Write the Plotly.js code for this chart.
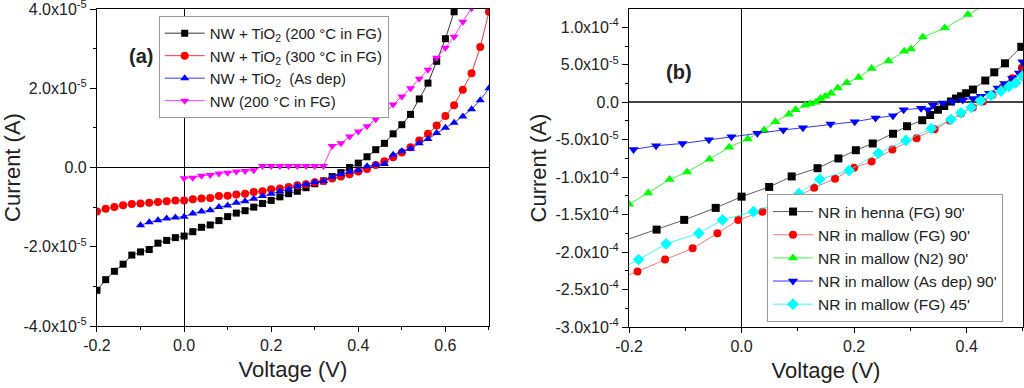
<!DOCTYPE html>
<html>
<head>
<meta charset="utf-8">
<script src="https://cdn.plot.ly/plotly-3.0.1.min.js"></script>
<style>html,body{margin:0;padding:0;background:#fff;}#chart{width:1024px;height:388px;}</style>
</head>
<body>
<div id="chart"></div>
<script>
// ---------- Panel (a) data (current in units of 1e-5 A) ----------
const aBlackV = [-0.2,-0.18,-0.16,-0.14,-0.12,-0.10,-0.08,-0.06,-0.04,-0.02,0.00,0.02,0.04,0.06,0.08,0.10,0.12,0.14,0.16,0.18,0.20,0.22,0.24,0.26,0.28,0.30,0.32,0.34,0.36,0.38,0.40,0.42,0.44,0.46,0.48,0.50,0.52,0.54,0.56,0.58,0.60,0.62];
const aBlackI = [-3.10,-2.83,-2.62,-2.44,-2.21,-2.13,-2.07,-1.91,-1.84,-1.77,-1.73,-1.62,-1.51,-1.45,-1.34,-1.24,-1.15,-1.09,-1.00,-0.91,-0.83,-0.74,-0.66,-0.60,-0.51,-0.41,-0.34,-0.23,-0.13,0.00,0.11,0.27,0.45,0.61,0.85,1.08,1.34,1.73,2.13,2.68,3.25,3.93];
const aRedV = [-0.2,-0.18,-0.16,-0.14,-0.12,-0.10,-0.08,-0.06,-0.04,-0.02,0.00,0.02,0.04,0.06,0.08,0.10,0.12,0.14,0.16,0.18,0.20,0.22,0.24,0.26,0.28,0.30,0.32,0.34,0.36,0.38,0.40,0.42,0.44,0.46,0.48,0.50,0.52,0.54,0.56,0.58,0.60,0.62,0.64,0.66,0.68,0.70];
const aRedI = [-1.11,-1.04,-1.00,-0.95,-0.92,-0.91,-0.89,-0.87,-0.85,-0.83,-0.83,-0.80,-0.78,-0.77,-0.72,-0.71,-0.68,-0.66,-0.62,-0.60,-0.55,-0.53,-0.49,-0.45,-0.42,-0.37,-0.34,-0.28,-0.23,-0.17,-0.10,-0.04,0.06,0.16,0.26,0.38,0.51,0.68,0.85,1.06,1.30,1.57,1.96,2.38,3.04,3.93];
const aBlueV = [-0.10,-0.08,-0.06,-0.04,-0.02,0.00,0.02,0.04,0.06,0.08,0.10,0.12,0.14,0.16,0.18,0.20,0.22,0.24,0.26,0.28,0.30,0.32,0.34,0.36,0.38,0.40,0.42,0.44,0.46,0.48,0.50,0.52,0.54,0.56,0.58,0.60,0.62,0.64,0.66,0.68,0.70];
const aBlueI = [-1.46,-1.38,-1.33,-1.29,-1.26,-1.24,-1.16,-1.11,-1.08,-1.00,-0.96,-0.89,-0.85,-0.79,-0.72,-0.66,-0.60,-0.55,-0.47,-0.42,-0.37,-0.34,-0.24,-0.17,-0.11,-0.07,0.03,0.07,0.09,0.32,0.41,0.47,0.61,0.72,0.87,1.00,1.13,1.29,1.47,1.70,2.00];
const aMagV = [0.00,0.02,0.04,0.06,0.08,0.10,0.12,0.14,0.16,0.18,0.20,0.22,0.24,0.26,0.28,0.30,0.32,0.34,0.36,0.38,0.40,0.42,0.44,0.46,0.48,0.50,0.52,0.54,0.56,0.58,0.60,0.62,0.64,0.66];
const aMagI = [-0.27,-0.26,-0.21,-0.19,-0.15,-0.13,-0.10,-0.09,-0.07,0.04,0.04,0.04,0.04,0.04,0.04,0.04,0.04,0.54,0.61,0.78,0.91,1.04,1.22,1.36,1.59,1.79,2.00,2.24,2.47,2.77,3.02,3.30,3.68,4.02];
const aNames = ["NW + TiO<sub>2</sub> (200 °C in FG)","NW + TiO<sub>2</sub> (300 °C in FG)","NW + TiO<sub>2</sub>  (As dep)","NW (200 °C in FG)"];
const aYTicks = [-4e-5,-2e-5,0,2e-5,4e-5];
const aYLabels = ["-4.0x10<sup>-5</sup>","-2.0x10<sup>-5</sup>","0.0","2.0x10<sup>-5</sup>","4.0x10<sup>-5</sup>"];
const aXTicks = [-0.2,0.0,0.2,0.4,0.6];
const aXLabels = ["-0.2","0.0","0.2","0.4","0.6"];

// ---------- Panel (b) data (current in units of 1e-4 A) ----------
const bBlackV = [-0.21,-0.151,-0.102,-0.046,0.0,0.049,0.089,0.135,0.172,0.203,0.233,0.269,0.294,0.321,0.335,0.349,0.360,0.372,0.381,0.390,0.399,0.411,0.433,0.449,0.468,0.497];
const bBlackI = [-1.85,-1.70,-1.57,-1.41,-1.26,-1.13,-0.99,-0.88,-0.75,-0.64,-0.55,-0.42,-0.32,-0.24,-0.17,-0.10,-0.05,0.01,0.05,0.08,0.12,0.17,0.29,0.40,0.52,0.74];
const bRedV = [-0.21,-0.185,-0.136,-0.087,-0.043,-0.006,0.037,0.086,0.129,0.166,0.200,0.231,0.268,0.311,0.343,0.370,0.390,0.411,0.429,0.446,0.464,0.481,0.498];
const bRedI = [-2.33,-2.26,-2.10,-1.95,-1.75,-1.57,-1.46,-1.31,-1.14,-1.02,-0.875,-0.79,-0.63,-0.48,-0.36,-0.245,-0.15,-0.07,0.01,0.10,0.20,0.32,0.46];
const bGreenV = [-0.2,-0.166,-0.128,-0.097,-0.057,-0.022,0.011,0.040,0.060,0.084,0.096,0.113,0.122,0.132,0.140,0.149,0.159,0.171,0.187,0.208,0.231,0.261,0.289,0.301,0.322,0.361,0.402,0.44];
const bGreenI = [-1.36,-1.21,-1.03,-0.93,-0.76,-0.60,-0.49,-0.37,-0.26,-0.16,-0.10,-0.04,-0.02,0.00,0.05,0.08,0.12,0.19,0.26,0.33,0.45,0.55,0.68,0.71,0.87,0.99,1.17,1.33];
const bBlueV = [-0.192,-0.152,-0.105,-0.058,-0.018,0.028,0.074,0.109,0.158,0.201,0.238,0.269,0.288,0.319,0.331,0.340,0.358,0.375,0.393,0.411,0.425,0.440,0.455,0.467,0.481,0.493,0.499];
const bBlueI = [-0.63,-0.58,-0.55,-0.50,-0.46,-0.415,-0.37,-0.34,-0.29,-0.26,-0.21,-0.18,-0.10,-0.08,-0.10,-0.04,-0.01,0.01,0.03,0.05,0.08,0.12,0.19,0.25,0.32,0.39,0.54];
const bCyanV = [-0.21,-0.183,-0.134,-0.076,-0.034,0.021,0.064,0.102,0.139,0.191,0.243,0.292,0.337,0.372,0.390,0.408,0.425,0.443,0.461,0.475,0.487,0.499];
const bCyanI = [-2.20,-2.10,-1.89,-1.75,-1.57,-1.46,-1.35,-1.22,-1.03,-0.91,-0.68,-0.51,-0.35,-0.23,-0.14,-0.07,0.02,0.09,0.15,0.21,0.26,0.35];
const bNames = ["NR in henna (FG) 90'","NR in mallow (FG) 90'","NR in mallow (N2) 90'","NR in mallow (As dep) 90'","NR in mallow (FG) 45'"];
const bYTicks = [-3e-4,-2.5e-4,-2e-4,-1.5e-4,-1e-4,-5e-5,0,5e-5,1e-4];
const bYLabels = ["-3.0x10<sup>-4</sup>","-2.5x10<sup>-4</sup>","-2.0x10<sup>-4</sup>","-1.5x10<sup>-4</sup>","-1.0x10<sup>-4</sup>","-5.0x10<sup>-5</sup>","0.0","5.0x10<sup>-5</sup>","1.0x10<sup>-4</sup>"];
const bXTicks = [-0.2,0.0,0.2,0.4];
const bXLabels = ["-0.2","0.0","0.2","0.4"];

const FONT = "Liberation Sans, Arial, sans-serif";
const scale = (arr, f) => arr.map(v => v * f);

function tr(x, y, name, color, symbol, size, xa, ya, legend) {
  return {
    x: x, y: y, name: name, type: 'scatter', mode: 'lines+markers',
    xaxis: xa, yaxis: ya, legend: legend,
    line: {color: color, width: 0.8},
    marker: {color: color, symbol: symbol, size: size}
  };
}

const data = [
  tr(aBlackV, scale(aBlackI,1e-5), aNames[0], '#000000', 'square', 7, 'x', 'y', 'legend'),
  tr(aRedV, scale(aRedI,1e-5), aNames[1], '#FF0000', 'circle', 8, 'x', 'y', 'legend'),
  tr(aBlueV, scale(aBlueI,1e-5), aNames[2], '#0000FF', 'triangle-up', 8, 'x', 'y', 'legend'),
  tr(aMagV, scale(aMagI,1e-5), aNames[3], '#FF00FF', 'triangle-down', 8, 'x', 'y', 'legend'),
  tr(bBlackV, scale(bBlackI,1e-4), bNames[0], '#000000', 'square', 8, 'x2', 'y2', 'legend2'),
  tr(bRedV, scale(bRedI,1e-4), bNames[1], '#FF0000', 'circle', 8, 'x2', 'y2', 'legend2'),
  tr(bGreenV, scale(bGreenI,1e-4), bNames[2], '#00FF00', 'triangle-up', 9, 'x2', 'y2', 'legend2'),
  tr(bBlueV, scale(bBlueI,1e-4), bNames[3], '#0000FF', 'triangle-down', 9, 'x2', 'y2', 'legend2'),
  tr(bCyanV, scale(bCyanI,1e-4), bNames[4], '#00FFFF', 'diamond', 9, 'x2', 'y2', 'legend2')
];
data[5].line.color = '#FF5050';
data[4].line.color = '#333333';

const tickFont = {family: FONT, size: 16, color: '#222'};
const titleFont = {family: FONT, size: 22, color: '#222'};

function mainX(domain, range, tv, tt, anchor, minorD) {
  return {domain: domain, range: range, anchor: anchor, tickmode: 'array', tickvals: tv, ticktext: tt,
    ticks: 'outside', ticklen: 5, tickwidth: 1, tickcolor: '#000', showline: true, linecolor: '#000', linewidth: 1,
    mirror: true, showgrid: false, zeroline: true, zerolinecolor: '#000', zerolinewidth: 1,
    minor: {dtick: minorD, tick0: 0, ticks: 'outside', ticklen: 3, tickcolor: '#000'},
    ticklabeloverflow: 'allow', automargin: false,
    tickfont: tickFont, title: {text: 'Voltage (V)', font: titleFont, standoff: 8}};
}
function mainY(domain, range, tv, tt, anchor, minorD, zc, zw) {
  return {domain: domain, range: range, anchor: anchor, tickmode: 'array', tickvals: tv, ticktext: tt,
    ticks: 'outside', ticklen: 6, tickwidth: 1, tickcolor: '#000', showline: true, linecolor: '#000', linewidth: 1,
    mirror: true, showgrid: false, zeroline: true, zerolinecolor: zc, zerolinewidth: zw,
    minor: {dtick: minorD, tick0: 0, ticks: 'outside', ticklen: 3, tickcolor: '#000'},
    ticklabeloverflow: 'allow', automargin: false,
    tickfont: tickFont, title: {text: 'Current (A)', font: titleFont, standoff: 2}};
}
function mirX(over, range, tv, anchor, minorD) {
  return {overlaying: over, side: 'top', anchor: anchor, range: range, tickmode: 'array', tickvals: tv,
    ticks: 'inside', ticklen: 6, tickcolor: '#000', showticklabels: false, showline: false, showgrid: false, zeroline: false,
    minor: {dtick: minorD, tick0: 0, ticks: 'inside', ticklen: 3, tickcolor: '#000'}};
}
function mirY(over, range, tv, anchor, minorD) {
  return {overlaying: over, side: 'right', anchor: anchor, range: range, tickmode: 'array', tickvals: tv,
    ticks: 'inside', ticklen: 6, tickcolor: '#000', showticklabels: false, showline: false, showgrid: false, zeroline: false,
    minor: {dtick: minorD, tick0: 0, ticks: 'inside', ticklen: 3, tickcolor: '#000'}};
}

const aXR = [-0.2, 0.7], aYR = [-4e-5, 4e-5];
const bXR = [-0.2, 0.5], bYR = [-3e-4, 1.245e-4];

const layout = {
  width: 1024, height: 388, margin: {l: 0, r: 0, t: 0, b: 0},
  paper_bgcolor: '#fff', plot_bgcolor: '#fff', font: {family: FONT, color: '#222'},
  xaxis: mainX([0.0947, 0.4775], aXR, aXTicks, aXLabels, 'y', 0.1),
  yaxis: mainY([0.1598, 0.9768], aYR, aYTicks, aYLabels, 'x', 1e-5, '#000', 1),
  xaxis2: mainX([0.6143, 0.999], bXR, bXTicks, bXLabels, 'y2', 0.1),
  yaxis2: mainY([0.1572, 0.9768], bYR, bYTicks, bYLabels, 'x2', 2.5e-5, '#444', 2),
  xaxis3: mirX('x', aXR, aXTicks, 'y', 0.1),
  yaxis3: mirY('y', aYR, aYTicks, 'x', 1e-5),
  xaxis4: mirX('x2', bXR, bXTicks, 'y2', 0.1),
  yaxis4: mirY('y2', bYR, bYTicks, 'x2', 2.5e-5),
  legend: {x: 0.155, y: 0.959, xanchor: 'left', yanchor: 'top', bgcolor: '#fff', bordercolor: '#999', borderwidth: 1,
    font: {family: FONT, size: 15, color: '#222'}, tracegroupgap: 0, itemwidth: 40},
  legend2: {x: 0.749, y: 1 - 322/388, xanchor: 'left', yanchor: 'bottom', bgcolor: '#fff', bordercolor: '#999', borderwidth: 1,
    font: {family: FONT, size: 15.5, color: '#222'}, tracegroupgap: 0, itemwidth: 40},
  showlegend: true,
  annotations: [
    {text: '<b>(a)</b>', xref: 'paper', yref: 'paper', x: 127/1024, y: 1 - 43/388, showarrow: false,
      font: {family: FONT, size: 20, color: '#222'}},
    {text: '<b>(b)</b>', xref: 'paper', yref: 'paper', x: 679/1024, y: 1 - 59/388, showarrow: false,
      font: {family: FONT, size: 20, color: '#222'}}
  ]
};

Plotly.newPlot('chart', data, layout, {staticPlot: true, displayModeBar: false});
</script>
</body>
</html>
